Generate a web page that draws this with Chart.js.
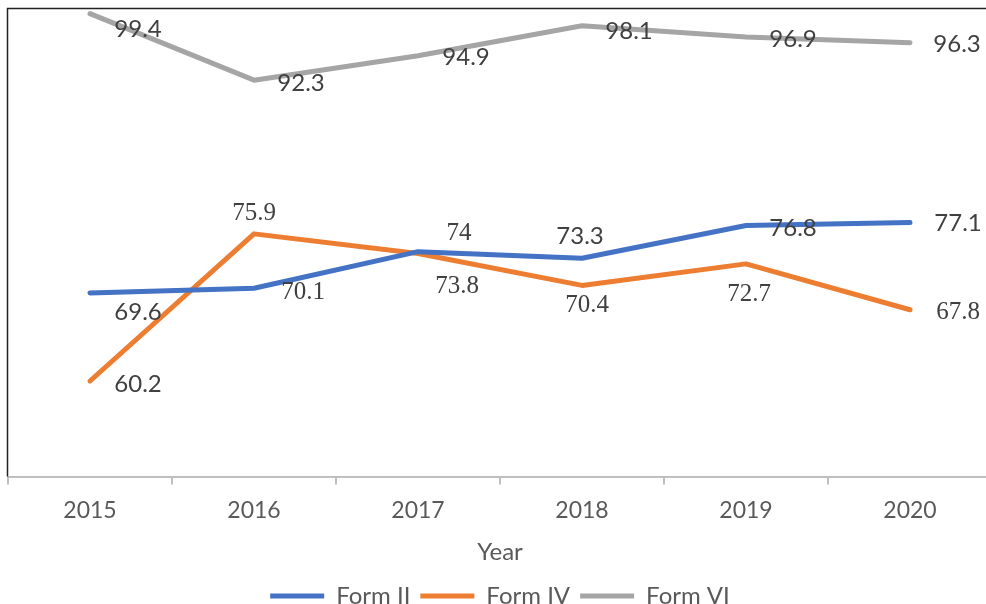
<!DOCTYPE html>
<html>
<head>
<meta charset="utf-8">
<script src="https://cdn.jsdelivr.net/npm/chart.js@4"></script>
<style>
  html, body { margin: 0; padding: 0; background: #fff; }
  #wrap { width: 986px; height: 604px; overflow: hidden; position: relative; }
  #box { width: 1000px; height: 618px; }
</style>
</head>
<body>
<div id="wrap"><div id="box"><canvas id="chart"></canvas></div></div>
<script>
// ---- data ----
const years = ['2015', '2016', '2017', '2018', '2019', '2020'];
const formII = [69.6, 70.1, 74, 73.3, 76.8, 77.1];
const formIV = [60.2, 75.9, 73.8, 70.4, 72.7, 67.8];
const formVI = [99.4, 92.3, 94.9, 98.1, 96.9, 96.3];

const SANS = 'Lato, "Open Sans", sans-serif';
const SERIF = '"Liberation Serif", "DejaVu Serif", serif';

// label placement (pixel offsets from each point) + font per label
const labelStyle = [
  { off: [[48, 19], [49, 4], [41, -18], [-2, -22], [47, 3], [48, 1]],
    serif: [false, true, true, false, false, false] },
  { off: [[48, 3], [0, -20], [39, 33], [5, 20], [3, 31], [48, 3]],
    serif: [false, true, true, true, true, true] },
  { off: [[48, 16], [47, 3], [48, 1], [47, 5], [47, 2], [47, 2]],
    serif: [false, false, false, false, false, false] }
];

const valueLabels = {
  id: 'valueLabels',
  afterDatasetsDraw(chart) {
    const ctx = chart.ctx;
    ctx.save();
    ctx.fillStyle = '#404040';
    ctx.textAlign = 'center';
    ctx.textBaseline = 'middle';
    chart.data.datasets.forEach((ds, di) => {
      const meta = chart.getDatasetMeta(di);
      const st = labelStyle[di];
      meta.data.forEach((pt, i) => {
        ctx.font = st.serif[i] ? '25px ' + SERIF : '24px ' + SANS;
        ctx.fillText(String(ds.data[i]), pt.x + st.off[i][0], pt.y + st.off[i][1]);
      });
    });
    ctx.restore();
  }
};

// black frame on the left and top
const frame = {
  id: 'frame',
  afterDraw(chart) {
    const ctx = chart.ctx, a = chart.chartArea;
    ctx.save();
    ctx.strokeStyle = '#222';
    ctx.lineWidth = 1.5;
    ctx.beginPath();
    ctx.moveTo(a.left - 0.5, a.bottom);
    ctx.lineTo(a.left - 0.5, a.top + 0.5);
    ctx.lineTo(chart.width, a.top + 0.5);
    ctx.stroke();
    ctx.restore();
  }
};

function line(label, data, color) {
  return {
    label, data,
    borderColor: color, backgroundColor: color,
    borderWidth: 5, pointRadius: 0, tension: 0,
    borderCapStyle: 'round', borderJoinStyle: 'round'
  };
}

new Chart(document.getElementById('chart'), {
  type: 'line',
  data: {
    labels: years,
    datasets: [
      line('Form II', formII, '#4472C4'),
      line('Form IV', formIV, '#ED7D31'),
      line('Form VI', formVI, '#A5A5A5')
    ]
  },
  options: {
    responsive: true,
    maintainAspectRatio: false,
    animation: false,
    layout: { padding: { left: 8, right: 8, top: 8, bottom: 0 } },
    plugins: {
      tooltip: { enabled: false },
      legend: {
        position: 'bottom',
        labels: {
          color: '#595959',
          font: { family: SANS, size: 24 },
          usePointStyle: true,
          pointStyle: 'line',
          pointStyleWidth: 54,
          boxHeight: 24,
          padding: 10
        }
      }
    },
    scales: {
      x: {
        offset: true,
        border: { color: '#BFBFBF', width: 2 },
        grid: { offset: true, drawOnChartArea: false, color: '#BFBFBF', tickLength: 8, lineWidth: 2 },
        ticks: { color: '#595959', font: { family: SANS, size: 23 }, padding: 12 },
        title: { display: true, text: 'Year', color: '#595959', font: { family: SANS, size: 24 }, padding: { top: 2, bottom: 7 } }
      },
      y: {
        display: false,
        min: 50,
        max: 100
      }
    }
  },
  plugins: [valueLabels, frame]
});
</script>
</body>
</html>
